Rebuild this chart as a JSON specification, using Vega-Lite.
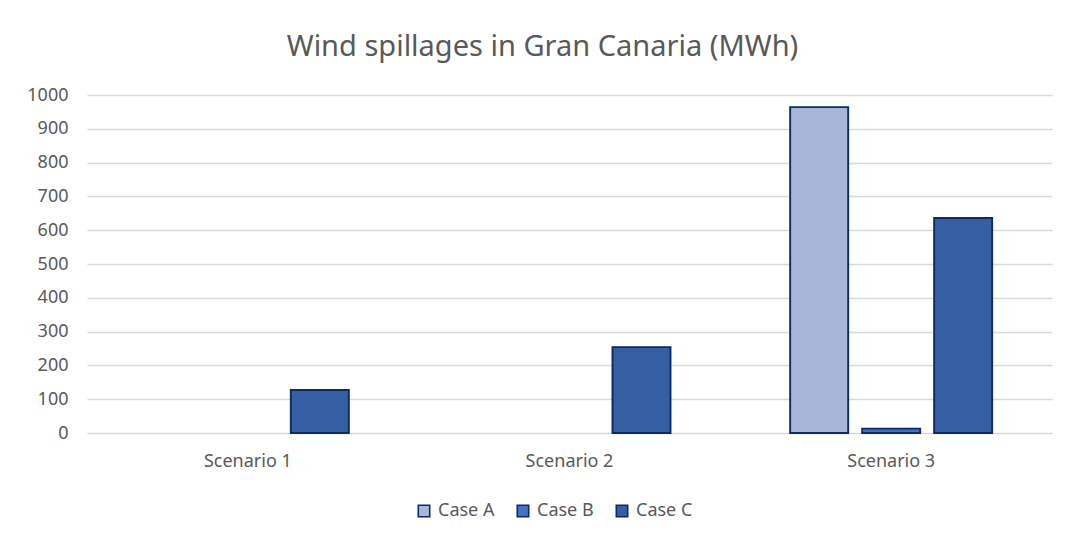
{
  "$schema": "https://vega.github.io/schema/vega-lite/v6.json",
  "autosize": "none",
  "width": 965,
  "height": 338,
  "padding": {"left": 87, "top": 95, "right": 18, "bottom": 109},
  "background": "white",
  "title": {
    "text": "Wind spillages in Gran Canaria (MWh)",
    "font": "Noto Sans",
    "fontSize": 29,
    "fontWeight": "normal",
    "color": "#595959",
    "anchor": "middle",
    "dx": -27,
    "offset": 24
  },
  "data": {
    "values": [
      {"scenario": "Scenario 1", "case": "Case A", "value": 0},
      {"scenario": "Scenario 1", "case": "Case B", "value": 0},
      {"scenario": "Scenario 1", "case": "Case C", "value": 127},
      {"scenario": "Scenario 2", "case": "Case A", "value": 0},
      {"scenario": "Scenario 2", "case": "Case B", "value": 0},
      {"scenario": "Scenario 2", "case": "Case C", "value": 254},
      {"scenario": "Scenario 3", "case": "Case A", "value": 964},
      {"scenario": "Scenario 3", "case": "Case B", "value": 13},
      {"scenario": "Scenario 3", "case": "Case C", "value": 636}
    ]
  },
  "mark": {"type": "bar", "stroke": "#0B2A66"},
  "encoding": {
    "x": {
      "field": "scenario",
      "type": "nominal",
      "scale": {"paddingInner": 0.372, "paddingOuter": 0.186},
      "axis": {
        "title": null,
        "labelAngle": 0,
        "ticks": false,
        "domain": false,
        "labelPadding": 19,
        "labelFont": "Noto Sans",
        "labelFontSize": 18,
        "labelColor": "#595959"
      }
    },
    "xOffset": {
      "field": "case",
      "type": "nominal",
      "scale": {"paddingInner": 0.194, "paddingOuter": 0}
    },
    "y": {
      "field": "value",
      "type": "quantitative",
      "scale": {"domain": [0, 1000], "nice": false},
      "axis": {
        "title": null,
        "values": [0, 100, 200, 300, 400, 500, 600, 700, 800, 900, 1000],
        "format": "d",
        "ticks": false,
        "domain": false,
        "labelPadding": 19,
        "labelFont": "Noto Sans",
        "labelFontSize": 18,
        "labelColor": "#595959",
        "gridColor": "#D9D9D9",
        "gridWidth": 1.3
      }
    },
    "color": {
      "field": "case",
      "type": "nominal",
      "scale": {
        "domain": ["Case A", "Case B", "Case C"],
        "range": ["#A9B6DA", "#4472C4", "#365EA3"]
      },
      "legend": {
        "title": null,
        "orient": "none",
        "direction": "horizontal",
        "legendX": 328,
        "legendY": 407,
        "symbolType": "square",
        "symbolSize": 130,
        "symbolStrokeColor": "#0B2A66",
        "symbolStrokeWidth": 1.6,
        "symbolOpacity": 1,
        "labelFont": "Noto Sans",
        "labelFontSize": 18,
        "labelColor": "#595959",
        "labelOffset": 5,
        "columnPadding": 19
      }
    },
    "strokeWidth": {
      "condition": {"test": "datum.value == 0", "value": 0},
      "value": 1.9
    }
  },
  "config": {
    "view": {"stroke": null}
  }
}
